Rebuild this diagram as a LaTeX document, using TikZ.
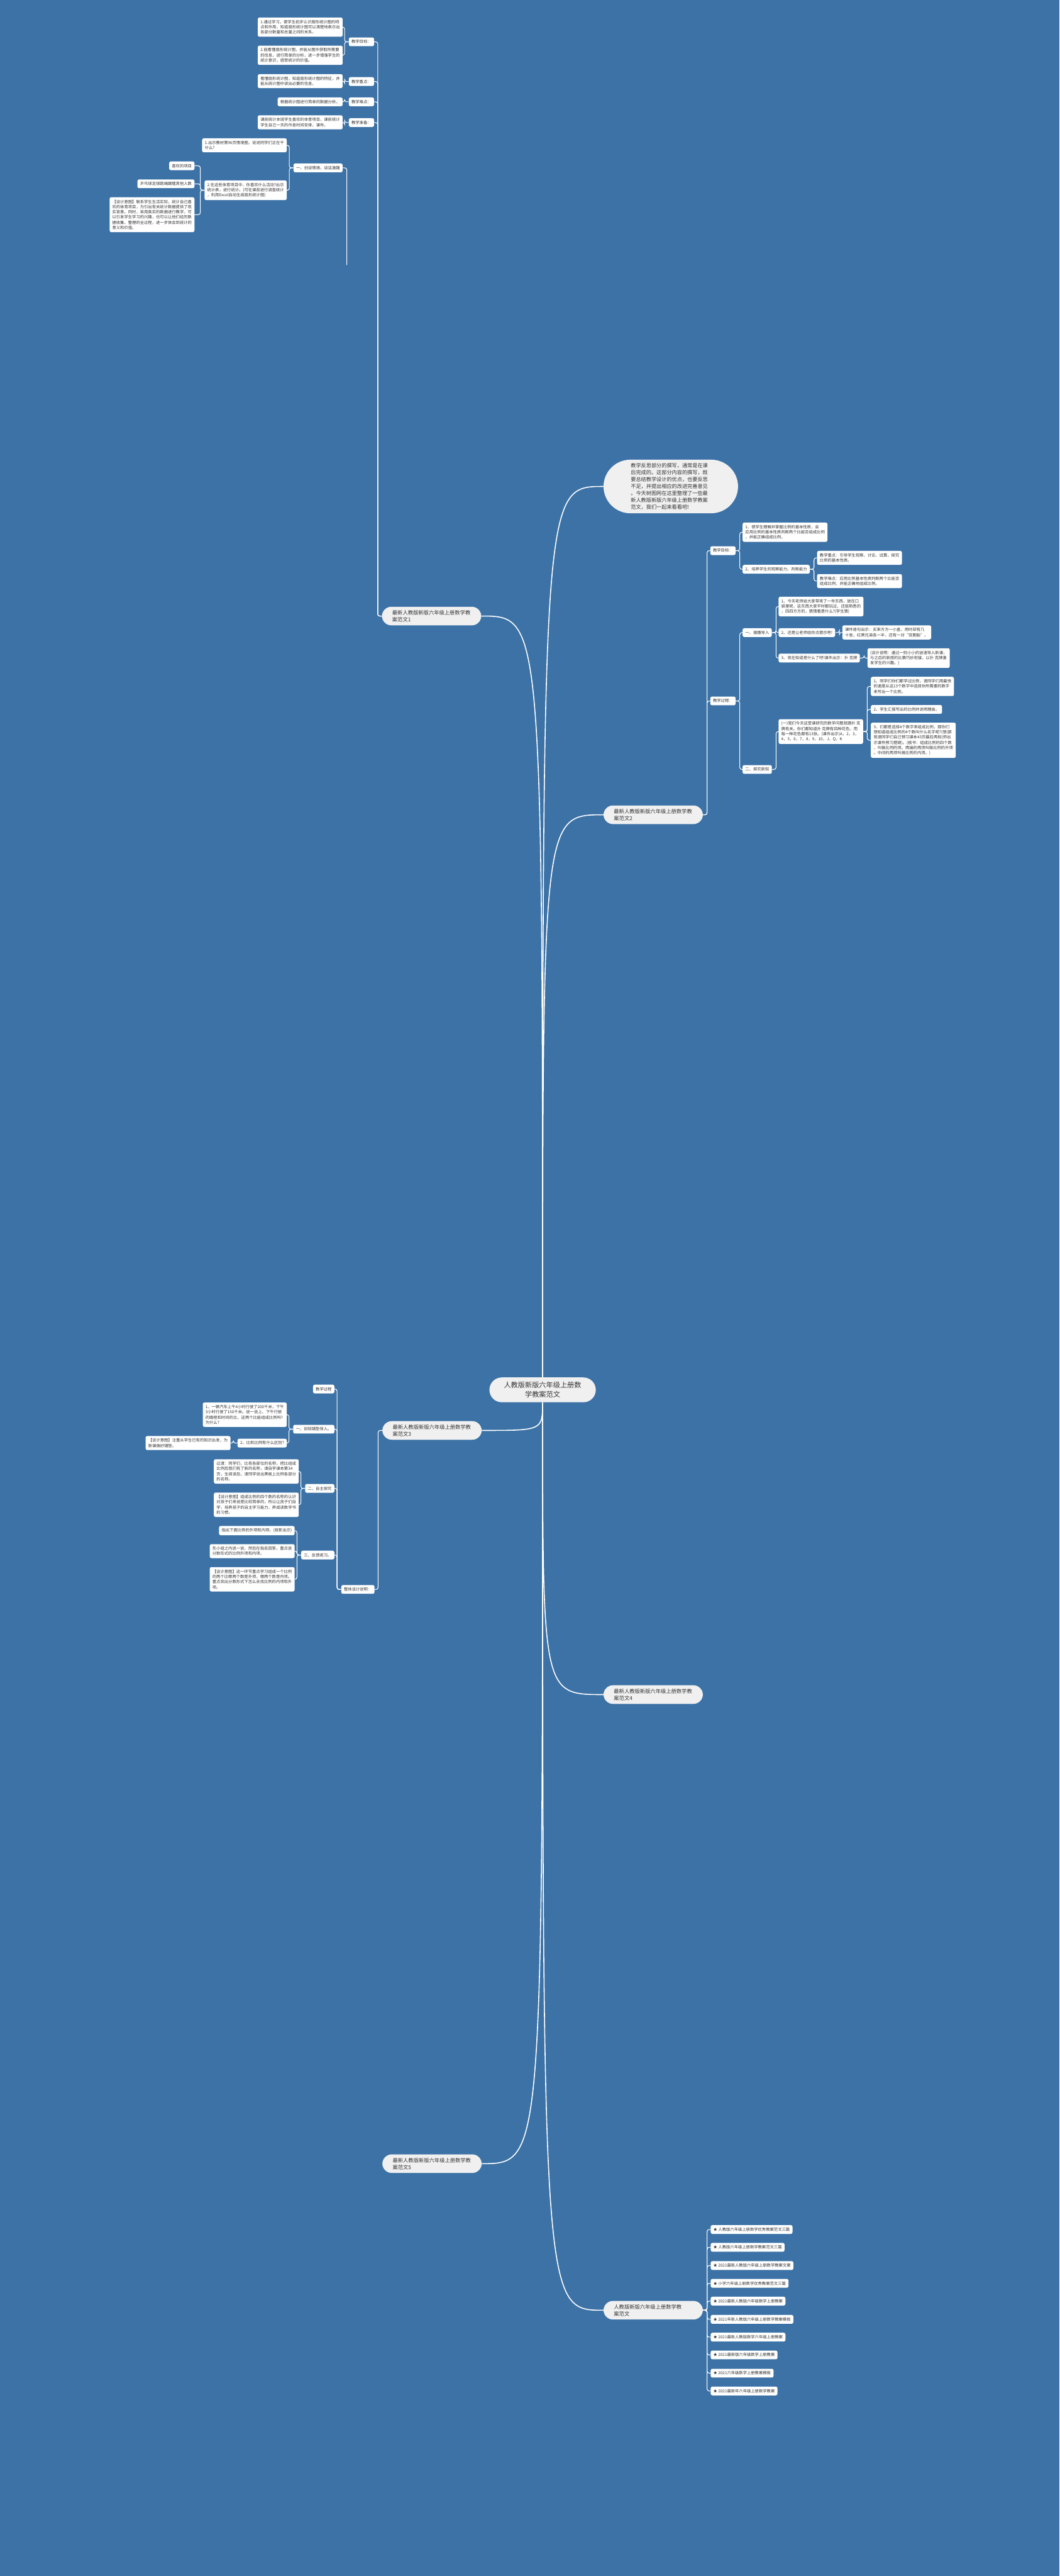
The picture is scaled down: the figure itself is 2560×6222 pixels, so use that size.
\documentclass[tikz,border=0pt]{standalone}
\usepackage{fontspec}
\newfontfamily\cjk{Noto Sans CJK SC}
\definecolor{bgc}{HTML}{3C72A6}
\definecolor{nodefill}{HTML}{F0F0F0}
\definecolor{txt}{HTML}{333333}
\newcommand\LN[4]{\node[leaf,anchor=east] (#1) at (#2,#3) {#4};}
\newcommand\RN[4]{\node[leaf,anchor=west] (#1) at (#2,#3) {#4};}
\newcommand\lnk[2]{\draw[conn] (#1.west) -- ++(-10,0) |- (#2.east);}
\newcommand\rnk[2]{\draw[conn] (#1.east) -- ++(10,0) |- (#2.west);}
\begin{document}
\begin{tikzpicture}[x=1pt,y=-1pt,
  conn/.style={draw=white,line width=1.6pt,rounded corners=5pt},
  mainconn/.style={draw=white,line width=2.4pt},
  leaf/.style={fill=white,rounded corners=4pt,inner xsep=6.5pt,inner ysep=6.1pt,font=\cjk\fontsize{9.6}{12.6}\selectfont,text=txt,align=left},
  branch/.style={fill=nodefill,rounded corners=23pt,inner xsep=25pt,inner ysep=8.3pt,font=\cjk\fontsize{12.6}{16.7}\selectfont,text=txt,align=left,text width=190pt},
  central/.style={fill=nodefill,rounded corners=30pt,minimum width=257pt,minimum height=60pt,font=\cjk\fontsize{17}{22}\selectfont,text=txt,align=center},
  intro/.style={fill=nodefill,rounded corners=65pt,inner xsep=66pt,inner ysep=8.7pt,font=\cjk\fontsize{12.4}{16.7}\selectfont,text=txt,align=left,text width=193pt}
]
\fill[bgc] (0,0) rectangle (2560,6222);
\useasboundingbox (0,0) rectangle (2560,6222);

% central and branches
\node[central] (c) at (1311,3357) {人教版新版六年级上册数\\学教案范文};
\node[intro,anchor=west] (intro) at (1458,1175) {教学反思部分的撰写，通常是在课\\后完成的。这部分内容的撰写，既\\要总结教学设计的优点，也要反思\\不足，并提出相应的改进完善意见\\。今天树图网在这里整理了一些最\\新人教版新版六年级上册数学教案\\范文，我们一起来看看吧!};
\node[branch,anchor=east] (f1) at (1163,1488) {最新人教版新版六年级上册数学教\\案范文1};
\node[branch,anchor=west] (f2) at (1458,1968) {最新人教版新版六年级上册数学教\\案范文2};
\node[branch,anchor=east] (f3) at (1164,3455) {最新人教版新版六年级上册数学教\\案范文3};
\node[branch,anchor=west] (f4) at (1458,4093) {最新人教版新版六年级上册数学教\\案范文4};
\node[branch,anchor=east] (f5) at (1164,5226) {最新人教版新版六年级上册数学教\\案范文5};
\node[branch,anchor=west] (rel) at (1458,5580) {人教版新版六年级上册数学教\\案范文};

\draw[mainconn] (c.north) .. controls (1311,1175) .. (intro.west);
\draw[mainconn] (c.north) .. controls (1311,1488) .. (f1.east);
\draw[mainconn] (c.north) .. controls (1311,1968) .. (f2.west);
\draw[mainconn] (c.south) .. controls (1311,3455) .. (f3.east);
\draw[mainconn] (c.south) .. controls (1311,4093) .. (f4.west);
\draw[mainconn] (c.south) .. controls (1311,5226) .. (f5.east);
\draw[mainconn] (c.south) .. controls (1311,5580) .. (rel.west);

% related list
\foreach \i/\y/\t in {1/5385/人教版六年级上册数学优秀教案范文三篇,2/5428/人教版六年级上册数学教案范文三篇,3/5472/2021最新人教版六年级上册数学教案文案,4/5515/小学六年级上册数学优秀教案范文三篇,5/5558/2021最新人教版六年级数学上册教案,6/5602/2021年新人教版六年级上册数学教案模板,7/5645/2021最新人教版数学六年级上册教案,8/5688/2021最新版六年级数学上册教案,9/5732/2021六年级数学上册教案模板,10/5775/2021最新年六年级上册数学教案}{
  \RN{r\i}{1717}{\y}{★ \t}
  \rnk{rel}{r\i}
}

% ---------- 范文1 ----------
\LN{a1}{904}{101}{教学目标：}
\LN{a1a}{828}{65.5}{1.通过学习，使学生初步认识扇形统计图的特\\点和作用，知道扇形统计图可以清楚地表示出\\各部分数量和总量之间的关系。}
\LN{a1b}{828}{133.5}{2.能看懂扇形统计图，并能从图中获取所需要\\的信息，进行简单的分析，进一步增强学生的\\统计意识，感受统计的价值。}
\LN{a2}{904}{197}{教学重点：}
\LN{a2a}{828}{196}{看懂扇形统计图，知道扇形统计图的特征，并\\能从统计图中读出必要的信息。}
\LN{a3}{904}{246}{教学难点：}
\LN{a3a}{828}{246}{根据统计图进行简单的数据分析。}
\LN{a4}{904}{296}{教学准备：}
\LN{a4a}{828}{295.5}{课前统计本班学生喜欢的体育项目，课前统计\\学生自己一天的作息时间安排，课件。}
\foreach \p/\q in {a1/a1a,a1/a1b,a2/a2a,a3/a3a,a4/a4a}{\lnk{\p}{\q}}
\foreach \p in {a1,a2,a3,a4}{\lnk{f1}{\p}}
\LN{a5a}{828}{405.5}{一、创设情境，谈话激趣}
\LN{a5a1}{693}{351}{1.出示教材第96页情境图，说说同学们正在干\\什么?}
\LN{a5a2}{693}{459.5}{2.在这些体育项目中，你喜欢什么活动?出示\\统计表，进行统计。(可在课前进行调查统计\\，利用Excel自动生成扇形统计图)}
\LN{a5a2a}{470}{400.5}{喜欢的项目}
\LN{a5a2b}{470}{444}{乒乓球足球跳绳踢毽其他人数}
\LN{a5a2c}{470}{518.5}{【设计意图】联系学生生活实际，统计自己喜\\欢的体育项目，为引出有关统计数据提供了现\\实背景。同时，采用真实的数据进行教学，可\\以引发学生学习的兴趣，也可以让他们经历数\\据收集、整理的全过程，进一步体会到统计的\\意义和价值。}
\foreach \p/\q in {a5a/a5a1,a5a/a5a2,a5a2/a5a2a,a5a2/a5a2b,a5a2/a5a2c}{\lnk{\p}{\q}}
\coordinate (a5bus) at (838,640);
\draw[conn] (a5a.east) -| (a5bus);

% ---------- 范文2 ----------
\RN{b1}{1716}{1330}{教学目标：}
\RN{b1a}{1794}{1285.5}{1、使学生理解并掌握比例的基本性质，会\\应用比例的基本性质判断两个比能否组成比例\\，并能正确组成比例。}
\RN{b1b}{1794}{1375}{2、培养学生的观察能力、判断能力}
\RN{b1b1}{1974}{1347.5}{教学重点：引导学生观察、讨论、试算，探究\\比例的基本性质。}
\RN{b1b2}{1974}{1403.5}{教学难点：应用比例基本性质判断两个比能否\\组成比例，并能正确地组成比例。}
\RN{b2}{1716}{1693}{教学过程：}
\RN{b2a}{1794}{1528}{一、激趣导入}
\RN{b2a1}{1881}{1465}{1、今天老师给大家带来了一件东西，放在口\\袋里呢，这东西大家平时都玩过，还挺熟悉的\\，四四方方的，猜猜看是什么?(学生猜)}
\RN{b2a2}{1881}{1528}{2、还是让老师给你点提示吧!}
\RN{b2a2a}{2035}{1527.5}{课件逐句出示：买来方方一小盒，用时却有几\\十张，红黑兄弟各一半，还有一对“双胞胎”。}
\RN{b2a3}{1881}{1589.5}{3、现在知道是什么了吧!课件出示：扑 克牌}
\RN{b2a3a}{2096}{1589.5}{(设计说明：通过一则小小的谜语导入新课，\\与之后的新授的比赛巧妙衔接，以扑 克牌激\\发学生的兴趣。)}
\RN{b2b}{1794}{1858.5}{二、探究新知}
\RN{b2b1}{1881}{1767}{(一)我们今天这堂课研究的数学问题就跟扑 克\\牌有关。你们都知道扑 克牌有四种花色，而\\每一种花色都有13张。(课件出示)A，2，3，\\4，5，6，7，8，9，10，J，Q，K}
\RN{b2b1a}{2104}{1658}{1、同学们你们都学过比例，请同学们用最快\\的速度从这13个数字中选择你所需要的数字\\来写出一个比例。}
\RN{b2b1b}{2104}{1713.5}{2、学生汇报写出的比例并说明理由。}
\RN{b2b1c}{2104}{1788}{3、们都是选择4个数字来组成比例，那你们\\想知道组成比例的4个数叫什么名字呢?(想)那\\就请同学们自己预习课本43页最后两段(师出\\示课件预习提纲)。(板书：组成比例的四个数\\，叫做比例的项。两端的两项叫做比例的外项\\。中间的两项叫做比例的内项。)}
\foreach \p/\q in {f2/b1,f2/b2,b1/b1a,b1/b1b,b1b/b1b1,b1b/b1b2,b2/b2a,b2/b2b,b2a/b2a1,b2a/b2a2,b2a/b2a3,b2a2/b2a2a,b2a3/b2a3a,b2b/b2b1,b2b1/b2b1a,b2b1/b2b1b,b2b1/b2b1c}{\rnk{\p}{\q}}

% ---------- 范文3 ----------
\LN{c0}{808}{3355}{教学过程}
\LN{c1}{808}{3452}{一、旧知铺垫导入。}
\LN{c1a}{693}{3417}{1、一辆汽车上午4小时行驶了200千米，下午\\3小时行驶了150千米。说一说上、下午行驶\\的路程和时间的比，这两个比能组成比例吗?\\为什么?}
\LN{c1b}{693}{3485.5}{2、比和比例有什么区别?}
\LN{c1b1}{557}{3485.5}{【设计意图】注重从学生已有的知识出发，为\\新课做好铺垫。}
\LN{c2}{808}{3595}{二、自主探究}
\LN{c2a}{722}{3554}{过渡：同学们，比有各部位的名称，把比组成\\比例后我们有了新的名称，请自学课本第34\\页，生阅读后，请同学说出黑板上比例各部分\\的名称。}
\LN{c2b}{722}{3634.5}{【设计意图】组成比例的四个数的名称的认识\\对孩子们来说是比较简单的，所以让孩子们自\\学，培养孩子的自主学习能力，养成读数学书\\的习惯。}
\LN{c3}{808}{3756}{三、反馈练习。}
\LN{c3a}{712}{3697}{指出下面比例的外项和内项。(投影出示)}
\LN{c3b}{712}{3746.5}{先小组之内说一说，然后在指名回答，重点说\\分数形式的比例外项和内项。}
\LN{c3c}{712}{3814.5}{【设计意图】这一环节重点学习组成一个比例\\的两个比哪两个数是外项，哪两个数是内项。\\重点突出分数形式下怎么去找比例的内项和外\\项。}
\LN{c4}{905}{3839}{整体设计说明：}
\foreach \p/\q in {c1/c1a,c1/c1b,c1b/c1b1,c2/c2a,c2/c2b,c3/c3a,c3/c3b,c3/c3c}{\lnk{\p}{\q}}
\foreach \q in {c0,c1,c2,c3}{\lnk{c4}{\q}}
\lnk{f3}{c4}
\end{tikzpicture}
\end{document}
